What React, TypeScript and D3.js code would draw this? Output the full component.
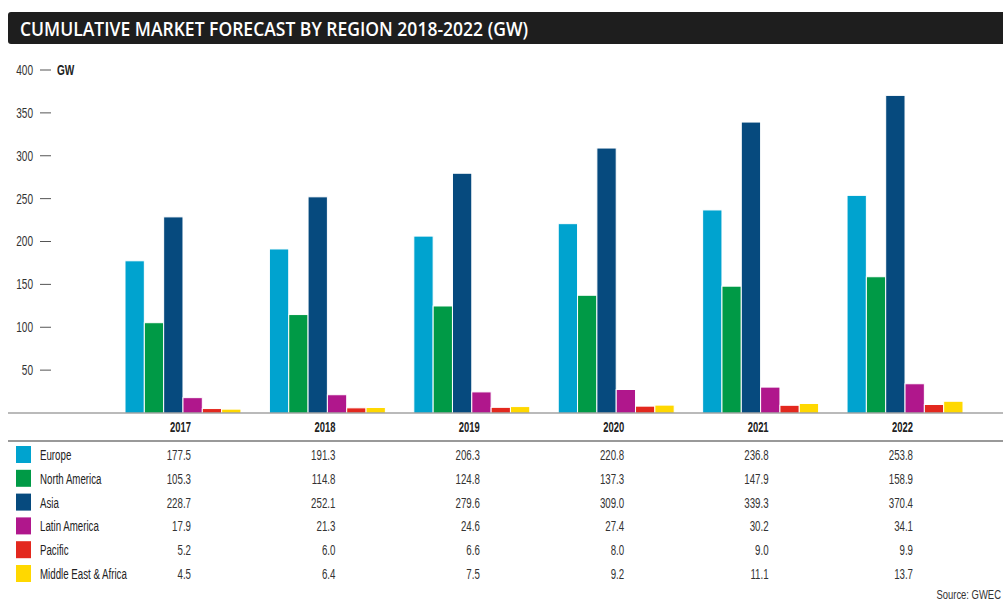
import * as d3 from "d3";

const years = ["2017", "2018", "2019", "2020", "2021", "2022"];
const regions = ["Europe", "North America", "Asia", "Latin America", "Pacific", "Middle East & Africa"];
const colors = ["#00a3cf", "#009a46", "#064a7e", "#b0178c", "#e3281e", "#ffd800"];

const europe = [177.5, 191.3, 206.3, 220.8, 236.8, 253.8];
const northAmerica = [105.3, 114.8, 124.8, 137.3, 147.9, 158.9];
const asia = [228.7, 252.1, 279.6, 309.0, 339.3, 370.4];
const latinAmerica = [17.9, 21.3, 24.6, 27.4, 30.2, 34.1];
const pacific = [5.2, 6.0, 6.6, 8.0, 9.0, 9.9];
const mea = [4.5, 6.4, 7.5, 9.2, 11.1, 13.7];
const series = [europe, northAmerica, asia, latinAmerica, pacific, mea];

const yTicks = [50, 100, 150, 200, 250, 300, 350, 400];

const W = 1003, H = 601;
const font = "'Liberation Sans', Arial, sans-serif";

// condensed look: squeeze Liberation Sans horizontally
function NText({ x, y, anchor = "start", size = 12, sx = 0.82, bold = false, fill = "#333", children }:
  { x: number; y: number; anchor?: string; size?: number; sx?: number; bold?: boolean; fill?: string; children: any }) {
  return (
    <g transform={`translate(${x},${y}) scale(${sx},1)`}>
      <text dy="0.35em" textAnchor={anchor} fontSize={size} fontWeight={bold ? "bold" : "normal"}
        fill={fill} fontFamily={font}>{children}</text>
    </g>
  );
}

export default function App() {
  const x = d3.scaleBand<string>().domain(years).range([125, 963]).paddingInner(0.197).paddingOuter(0);
  const xi = d3.scaleBand<number>().domain(d3.range(regions.length)).range([0, x.bandwidth()]);
  const y = d3.scaleLinear().domain([0, 400]).range([413, 70]);
  const rowY = d3.scalePoint<string>().domain(regions).range([455, 574]);
  const colRight = (yr: string) => x(yr)! + x.bandwidth() / 2 + 8;

  return (
    <svg width={W} height={H} style={{ position: "absolute", left: 0, top: 0, background: "#fff" }}>
      <rect x={8} y={12} width={1000} height={32} rx={3} fill="#1e1e1e" />
      <text x={20} y={36} fill="#fff" fontSize={19} fontWeight={600}
        fontFamily="'Open Sans', sans-serif" textLength={508} lengthAdjust="spacingAndGlyphs">
        CUMULATIVE MARKET FORECAST BY REGION 2018-2022 (GW)
      </text>

      {yTicks.map((t) => (
        <g key={t}>
          <NText x={33} y={y(t)} anchor="end" size={14} sx={0.72} fill="#333">{t}</NText>
          <line x1={40} x2={51} y1={y(t)} y2={y(t)} stroke="#555" strokeWidth={1} />
        </g>
      ))}
      <NText x={57} y={y(400)} size={14} sx={0.72} bold fill="#222">GW</NText>

      {years.map((yr, yi) => (
        <g key={yr} transform={`translate(${x(yr)},0)`}>
          {series.map((s, si) => (
            <rect key={si} x={xi(si)} y={y(s[yi])} width={xi.bandwidth()} height={y(0) - y(s[yi])}
              fill={colors[si]} stroke="#fff" strokeWidth={1} />
          ))}
        </g>
      ))}
      <line x1={8} x2={W} y1={y(0)} y2={y(0)} stroke="#777" strokeWidth={1.2} />

      {years.map((yr) => (
        <NText key={yr} x={colRight(yr)} y={427} anchor="end" size={14.5} sx={0.65} bold fill="#222">{yr}</NText>
      ))}
      <line x1={8} x2={W} y1={441} y2={441} stroke="#999" strokeWidth={2} />

      {regions.map((r, ri) => (
        <g key={r}>
          <rect x={16} y={rowY(r)! - 9} width={15} height={17} fill={colors[ri]} />
          <NText x={40} y={rowY(r)!} size={14.5} sx={0.67} fill="#222">{r}</NText>
          {years.map((yr, yi) => (
            <NText key={yr} x={colRight(yr)} y={rowY(r)!} anchor="end" size={14.5} sx={0.67} fill="#333">
              {series[ri][yi].toFixed(1)}
            </NText>
          ))}
        </g>
      ))}

      <NText x={1001} y={594} anchor="end" size={13.5} sx={0.7} fill="#333">Source: GWEC</NText>
    </svg>
  );
}
